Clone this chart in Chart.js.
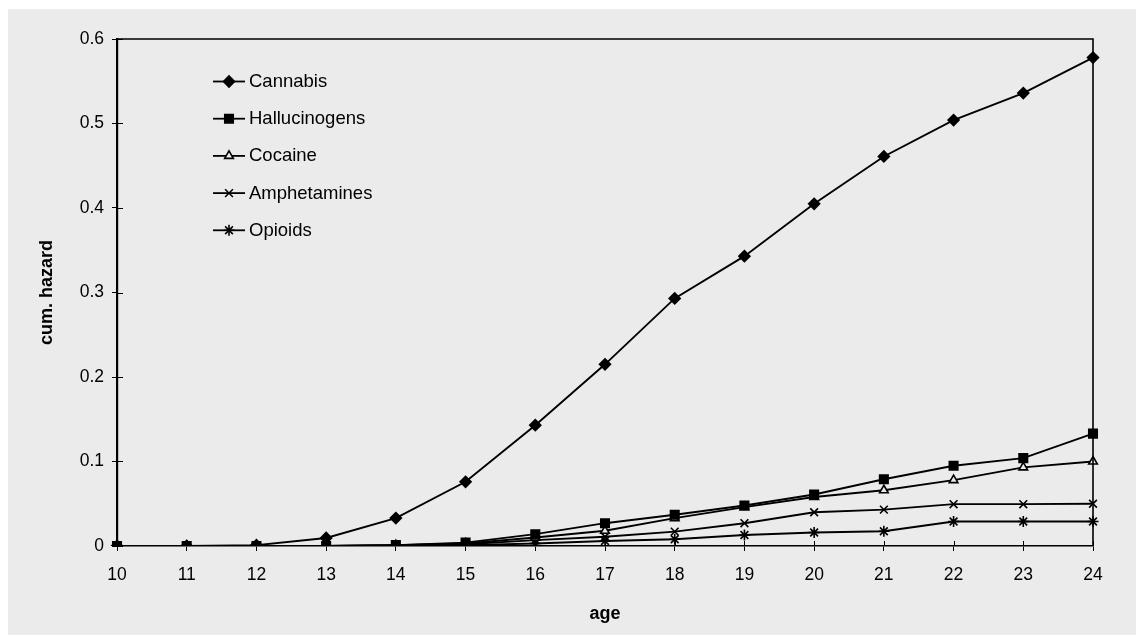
<!DOCTYPE html>
<html>
<head>
<meta charset="utf-8">
<script src="https://cdn.jsdelivr.net/npm/chart.js@4/dist/chart.umd.min.js"></script>
<style>
  html, body { margin: 0; padding: 0; background: #ffffff; }
  #wrap { width: 1136px; height: 635px; position: relative; }
</style>
</head>
<body>
<div id="wrap"><canvas id="c" width="1136" height="635"></canvas></div>
<script>
// Age at onset (years)
const ages = [10, 11, 12, 13, 14, 15, 16, 17, 18, 19, 20, 21, 22, 23, 24];

// Cumulative hazard of first use, by substance
const cannabis      = [0, 0, 0.001, 0.0095, 0.033, 0.076, 0.143, 0.215, 0.293, 0.343, 0.405, 0.461, 0.504, 0.536, 0.578];
const hallucinogens = [0, 0, 0, 0, 0.001, 0.004, 0.014, 0.027, 0.037, 0.048, 0.061, 0.079, 0.095, 0.104, 0.133];
const cocaine       = [0, 0, 0, 0, 0.001, 0.003, 0.010, 0.018, 0.033, 0.046, 0.058, 0.066, 0.078, 0.093, 0.100];
const amphetamines  = [0, 0, 0, 0, 0.001, 0.002, 0.007, 0.011, 0.017, 0.027, 0.040, 0.043, 0.0495, 0.0495, 0.050];
const opioids       = [0, 0, 0, 0, 0, 0.001, 0.003, 0.006, 0.008, 0.013, 0.016, 0.0175, 0.029, 0.029, 0.029];

const yTicks = [0, 0.1, 0.2, 0.3, 0.4, 0.5, 0.6];

const seriesNames = ['Cannabis', 'Hallucinogens', 'Cocaine', 'Amphetamines', 'Opioids'];

const INK = '#000000';
const PANEL = '#ebebeb';
const FONT = '"Liberation Sans", Arial, Helvetica, sans-serif';

function lineSet(label, data, style, radius, fill) {
  return {
    label: label,
    data: data,
    borderColor: INK,
    borderWidth: 1.9,
    pointStyle: style,
    pointRadius: radius,
    pointBorderWidth: 1.6,
    pointBorderColor: INK,
    pointBackgroundColor: fill,
    tension: 0,
    fill: false
  };
}

const datasets = [
  lineSet(seriesNames[0], cannabis, 'rectRot', 5.5, INK),
  lineSet(seriesNames[1], hallucinogens, 'rect', 6, INK),
  lineSet(seriesNames[2], cocaine, 'triangle', 5, PANEL),
  lineSet(seriesNames[3], amphetamines, 'crossRot', 5.5, INK),
  lineSet(seriesNames[4], opioids, 'star', 5.5, INK)
];

// Grey panel behind everything, with a thin white margin on the top/left
const panelBg = {
  id: 'panelBg',
  beforeDraw(chart) {
    const ctx = chart.ctx;
    ctx.save();
    ctx.fillStyle = '#ffffff';
    ctx.fillRect(0, 0, chart.width, chart.height);
    ctx.fillStyle = PANEL;
    ctx.fillRect(8, 9, chart.width - 8, chart.height - 9);
    ctx.restore();
  }
};

// Top/right frame lines and tick marks reaching into the plot
const frameAndTicks = {
  id: 'frameAndTicks',
  afterDraw(chart) {
    const { ctx, chartArea: a } = chart;
    const xs = chart.scales.x, ys = chart.scales.y;
    ctx.save();
    ctx.strokeStyle = INK;
    ctx.lineWidth = 1.6;
    ctx.beginPath();
    ctx.moveTo(a.left, a.top);
    ctx.lineTo(a.right, a.top);
    ctx.lineTo(a.right, a.bottom);
    ctx.stroke();
    ctx.lineWidth = 1;
    ctx.beginPath();
    xs.ticks.forEach((t, i) => {
      const px = Math.round(xs.getPixelForTick(i)) + 0.5;
      ctx.moveTo(px, a.bottom);
      ctx.lineTo(px, a.bottom - 5);
    });
    ys.ticks.forEach((t, i) => {
      const py = Math.round(ys.getPixelForTick(i)) + 0.5;
      ctx.moveTo(a.left, py);
      ctx.lineTo(a.left + 6, py);
    });
    ctx.stroke();
    ctx.restore();
  }
};

// Legend placed inside the plot, upper left
const innerLegend = {
  id: 'innerLegend',
  afterDraw(chart) {
    const { ctx, chartArea: a } = chart;
    const x0 = a.left + 96;
    const y0 = a.top + 42.5;
    const gap = 37.2;
    ctx.save();
    ctx.font = '18.5px ' + FONT;
    ctx.textBaseline = 'middle';
    ctx.textAlign = 'left';
    chart.data.datasets.forEach((ds, i) => {
      const y = y0 + i * gap;
      ctx.strokeStyle = INK;
      ctx.lineWidth = 1.8;
      ctx.beginPath();
      ctx.moveTo(x0, y);
      ctx.lineTo(x0 + 32, y);
      ctx.stroke();
      ctx.fillStyle = ds.pointBackgroundColor;
      ctx.strokeStyle = INK;
      ctx.lineWidth = ds.pointBorderWidth;
      Chart.helpers.drawPoint(ctx, {
        pointStyle: ds.pointStyle,
        radius: ds.pointRadius,
        rotation: 0,
        borderWidth: ds.pointBorderWidth
      }, x0 + 16, y);
      ctx.fillStyle = INK;
      ctx.fillText(ds.label, x0 + 36, y + 0.5);
    });
    ctx.restore();
  }
};

new Chart(document.getElementById('c'), {
  type: 'line',
  data: { labels: ages.map(String), datasets: datasets },
  plugins: [panelBg, frameAndTicks, innerLegend],
  options: {
    responsive: false,
    animation: false,
    events: [],
    layout: { padding: { left: 8, top: 39, right: 43, bottom: 10 } },
    plugins: {
      legend: { display: false },
      tooltip: { enabled: false },
      title: { display: false }
    },
    scales: {
      x: {
        type: 'category',
        offset: false,
        grid: {
          offset: false,
          drawOnChartArea: false,
          drawTicks: true,
          tickLength: 5,
          tickColor: INK,
          tickWidth: 1
        },
        border: { display: true, color: INK, width: 1.6 },
        ticks: {
          color: INK,
          font: { family: FONT, size: 17.5 },
          padding: 14,
          maxRotation: 0,
          autoSkip: false
        },
        title: {
          display: true,
          text: 'age',
          color: INK,
          font: { family: FONT, size: 18, weight: 'bold' },
          padding: { top: 0, bottom: 0 }
        },
        afterFit(scale) { scale.height = 79; }
      },
      y: {
        type: 'linear',
        min: 0,
        max: 0.6,
        afterBuildTicks(scale) { scale.ticks = yTicks.map(v => ({ value: v })); },
        grid: {
          drawOnChartArea: false,
          drawTicks: true,
          tickLength: 5,
          tickColor: INK,
          tickWidth: 1
        },
        border: { display: true, color: INK, width: 2.2 },
        ticks: {
          color: INK,
          font: { family: FONT, size: 17.5 },
          padding: 8,
          callback: v => (v === 0 ? '0' : Number(v).toFixed(1))
        },
        title: {
          display: true,
          text: 'cum. hazard',
          color: INK,
          font: { family: FONT, size: 18, weight: 'bold' },
          padding: { top: 28, bottom: 0 }
        },
        afterFit(scale) { scale.width = 109; }
      }
    }
  }
});
</script>
</body>
</html>
